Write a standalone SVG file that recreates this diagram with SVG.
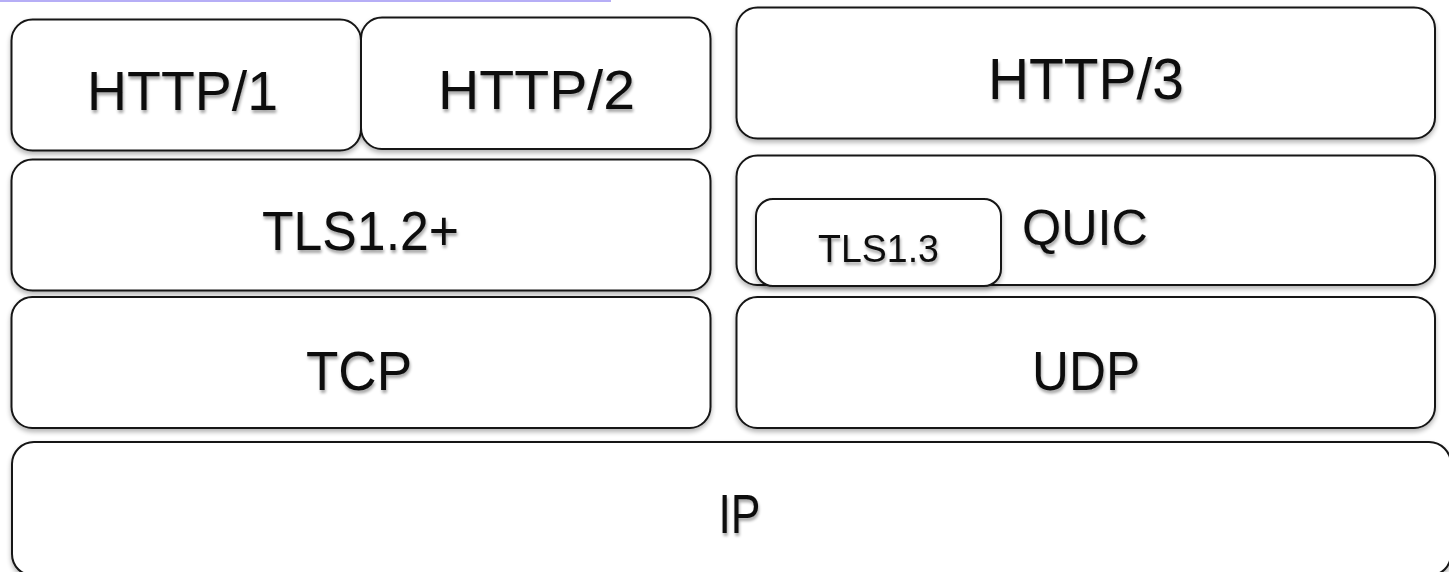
<svg xmlns="http://www.w3.org/2000/svg" width="1449" height="572" viewBox="0 0 1449 572">
  <defs>
    <filter id="shadow" x="-5%" y="-10%" width="110%" height="130%">
      <feGaussianBlur in="SourceAlpha" stdDeviation="2.5"/>
      <feOffset dx="0" dy="3" result="blur"/>
      <feComponentTransfer><feFuncA type="linear" slope="0.3"/></feComponentTransfer>
      <feMerge><feMergeNode/><feMergeNode in="SourceGraphic"/></feMerge>
    </filter>
    <filter id="tshadow" x="-10%" y="-20%" width="120%" height="150%">
      <feGaussianBlur in="SourceAlpha" stdDeviation="1.5"/>
      <feOffset dx="1" dy="3"/>
      <feComponentTransfer><feFuncA type="linear" slope="0.35"/></feComponentTransfer>
      <feMerge><feMergeNode/><feMergeNode in="SourceGraphic"/></feMerge>
    </filter>
  </defs>
  <style>
    .box { fill: #ffffff; stroke: #141414; stroke-width: 2; filter: url(#shadow); }
    .lbl { font-family: "Liberation Sans", Arial, sans-serif; fill: #0e0e0e; filter: url(#tshadow); }
  </style>
  <rect width="1449" height="572" fill="#ffffff"/>
  <!-- top accent rule -->
  <rect x="0" y="0" width="611" height="2" fill="#b6aef6"/>

  <g id="http1">
    <rect class="box" x="11.5" y="19.5" width="349.5" height="131" rx="21"/>
    <text class="lbl" x="87" y="110" font-size="55" textLength="191" lengthAdjust="spacingAndGlyphs">HTTP/1</text>
  </g>
  <g id="http2">
    <rect class="box" x="361" y="17.5" width="349.5" height="131.5" rx="21"/>
    <text class="lbl" x="438" y="109" font-size="55" textLength="197" lengthAdjust="spacingAndGlyphs">HTTP/2</text>
  </g>
  <g id="http3">
    <rect class="box" x="736.5" y="7.5" width="698.5" height="131" rx="21"/>
    <text class="lbl" x="988" y="99" font-size="57" textLength="196" lengthAdjust="spacingAndGlyphs">HTTP/3</text>
  </g>
  <g id="tls12">
    <rect class="box" x="11.5" y="159.5" width="699" height="131" rx="21"/>
    <text class="lbl" x="262" y="250" font-size="55" textLength="197" lengthAdjust="spacingAndGlyphs">TLS1.2+</text>
  </g>
  <g id="quic">
    <rect class="box" x="736.5" y="155.5" width="698.5" height="129.5" rx="21"/>
    <text class="lbl" x="1022" y="245" font-size="50" textLength="126" lengthAdjust="spacingAndGlyphs">QUIC</text>
  </g>
  <g id="tls13">
    <rect class="box" x="756" y="199" width="245" height="87" rx="17"/>
    <text class="lbl" x="818" y="262" font-size="39" textLength="121" lengthAdjust="spacingAndGlyphs">TLS1.3</text>
  </g>
  <g id="tcp">
    <rect class="box" x="11.5" y="297" width="699" height="131" rx="21"/>
    <text class="lbl" x="306" y="390" font-size="55" textLength="106" lengthAdjust="spacingAndGlyphs">TCP</text>
  </g>
  <g id="udp">
    <rect class="box" x="736.5" y="297" width="698.5" height="131" rx="21"/>
    <text class="lbl" x="1032" y="390" font-size="55" textLength="108" lengthAdjust="spacingAndGlyphs">UDP</text>
  </g>
  <g id="ip">
    <rect class="box" x="12" y="442" width="1439" height="134" rx="22"/>
    <text class="lbl" x="739.5" y="533" font-size="55" text-anchor="middle" textLength="42" lengthAdjust="spacingAndGlyphs">IP</text>
  </g>

  <g id="connectors"/>
</svg>
